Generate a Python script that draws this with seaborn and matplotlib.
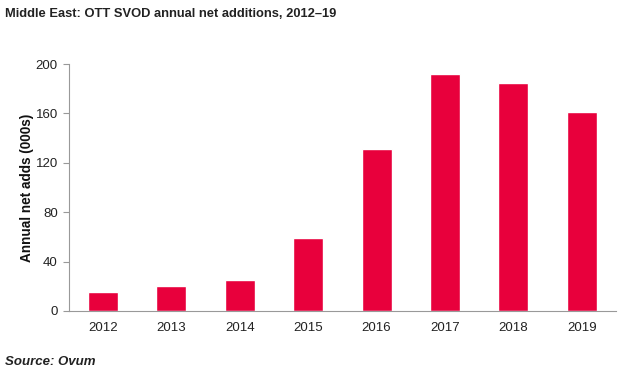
import matplotlib
matplotlib.use("Agg")
import matplotlib.pyplot as plt
import seaborn as sns
import pandas as pd

years = ["2012", "2013", "2014", "2015", "2016", "2017", "2018", "2019"]
net_adds = [15, 20, 25, 59, 131, 192, 185, 161]
y_ticks = [0, 40, 80, 120, 160, 200]

sns.set_theme(style="white")
plt.rcParams['font.family'] = ['Liberation Sans', 'DejaVu Sans']

df = pd.DataFrame({"year": years, "adds": net_adds})

fig = plt.figure(figsize=(6.26, 3.75), dpi=100)
ax = fig.add_axes([0.110, 0.1707, 0.874, 0.6586])
sns.barplot(data=df, x="year", y="adds", color="#E8003C", saturation=1,
            width=0.44, ax=ax)

ax.set_ylim(0, 200)
ax.set_xlim(-0.5, 7.5)
ax.set_yticks(y_ticks)
ax.set_yticklabels([str(v) for v in y_ticks], fontsize=9.5, color="#222222")
ax.set_xticks(range(len(years)))
ax.set_xticklabels(years, fontsize=9.5, color="#222222")
ax.set_xticks([i - 0.5 for i in range(len(years) + 1)], minor=True)
ax.tick_params(axis="x", which="major", length=0, pad=8)
ax.tick_params(axis="x", which="minor", length=4, color="#999999", width=0.8, direction="out")
ax.tick_params(axis="y", length=4, color="#999999", width=0.8, direction="out", pad=4, left=True)
ax.set_xlabel("")
ax.set_ylabel("Annual net adds (000s)", fontsize=9.8, fontweight="bold", color="#111111", labelpad=1)
for s in ["top", "right"]:
    ax.spines[s].set_visible(False)
for s in ["left", "bottom"]:
    ax.spines[s].set_color("#999999")
    ax.spines[s].set_linewidth(0.8)
ax.grid(False)

fig.text(0.008, 0.962, "Middle East: OTT SVOD annual net additions, 2012\u201319",
         fontsize=9.3, fontweight="bold", color="#222222", va="center", ha="left")
fig.text(0.008, 0.034, "Source: Ovum", fontsize=9.5, fontweight="bold", fontstyle="italic",
         color="#222222", va="center", ha="left")

fig.savefig("out.png", dpi=100)
